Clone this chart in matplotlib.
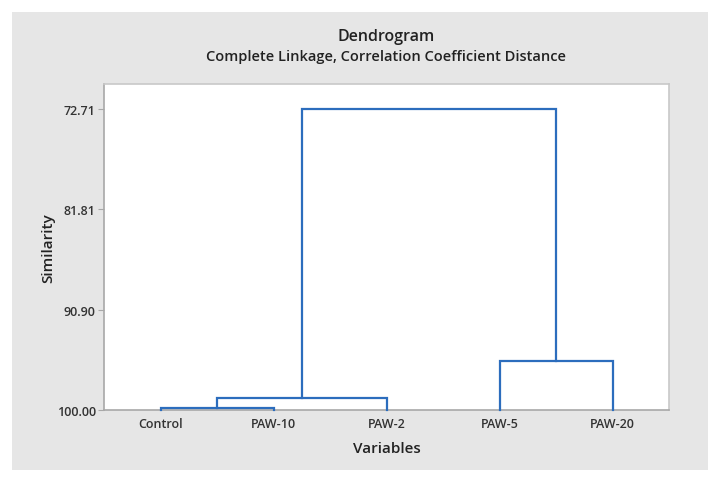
import matplotlib
matplotlib.use("Agg")
import matplotlib.pyplot as plt
from matplotlib.patches import Rectangle

plt.rcParams['font.family'] = ['Open Sans', 'DejaVu Sans']

# ----- data -----
labels = ['Control', 'PAW-10', 'PAW-2', 'PAW-5', 'PAW-20']
# linkage rows (scipy style): leaves 0..4, clusters 5..
link_a = [0, 5, 3, 6]
link_b = [1, 2, 4, 7]
link_sim = [99.78, 98.94, 95.54, 72.71]
ytick_vals = [72.71, 81.81, 90.90, 100.00]
ytick_labels = ['72.71', '81.81', '90.90', '100.00']

line_col = '#2c6dbd'
gray_bg = '#e6e6e6'

fig = plt.figure(figsize=(7.2, 4.85), dpi=100)
fig.patch.set_facecolor('white')
# gray panel behind everything
fig.add_artist(Rectangle((12 / 720, 1 - 471 / 485), 696 / 720, 458 / 485,
                         transform=fig.transFigure, facecolor=gray_bg,
                         edgecolor='none', zorder=-10))

ax = fig.add_axes([104 / 720, 1 - 411 / 485, 565 / 720, 326 / 485])
ax.set_zorder(1)
ax.set_facecolor('white')

# positions of leaves and clusters
xs = [i + 1 for i in range(len(labels))]
hs = [100.0] * len(labels)
for a, b, s in zip(link_a, link_b, link_sim):
    xa, xb = xs[a], xs[b]
    ha, hb = hs[a], hs[b]
    ax.plot([xa, xa, xb, xb], [ha, s, s, hb], color=line_col, lw=1.6,
            solid_joinstyle='miter', zorder=3, clip_on=False)
    xs.append((xa + xb) / 2)
    hs.append(s)

ax.set_xlim(0.5, len(labels) + 0.5)
ax.set_ylim(100, 70.44)
ax.set_xticks(range(1, len(labels) + 1))
ax.set_xticklabels(labels)
ax.set_yticks(ytick_vals)
ax.set_yticklabels(ytick_labels)

for side in ['top', 'right']:
    ax.spines[side].set_color('#c8c8c8')
for side in ['left', 'bottom']:
    ax.spines[side].set_color('#a8a8a8')
for sp in ax.spines.values():
    sp.set_linewidth(1.2)
ax.tick_params(axis='both', direction='out', length=4, width=0.8,
               color='#a8a8a8', labelsize=9, labelcolor='#333333', pad=2)
ax.tick_params(axis='x', length=0, pad=5)
for t in ax.get_xticklabels() + ax.get_yticklabels():
    t.set_fontweight('semibold')

ax.set_xlabel('Variables', fontsize=11, fontweight='semibold', color='#222222', labelpad=8)
ax.set_ylabel('Similarity', fontsize=11, fontweight='semibold', color='#222222', labelpad=1)

fig.text(386 / 720, 1 - 37 / 485, 'Dendrogram', ha='center', va='center',
         fontsize=11.5, fontweight='semibold', color='#222222')
fig.text(386 / 720, 1 - 57 / 485, 'Complete Linkage, Correlation Coefficient Distance',
         ha='center', va='center', fontsize=10.5, fontweight='semibold', color='#222222')

fig.savefig('out.png', dpi=100, facecolor=fig.get_facecolor())
